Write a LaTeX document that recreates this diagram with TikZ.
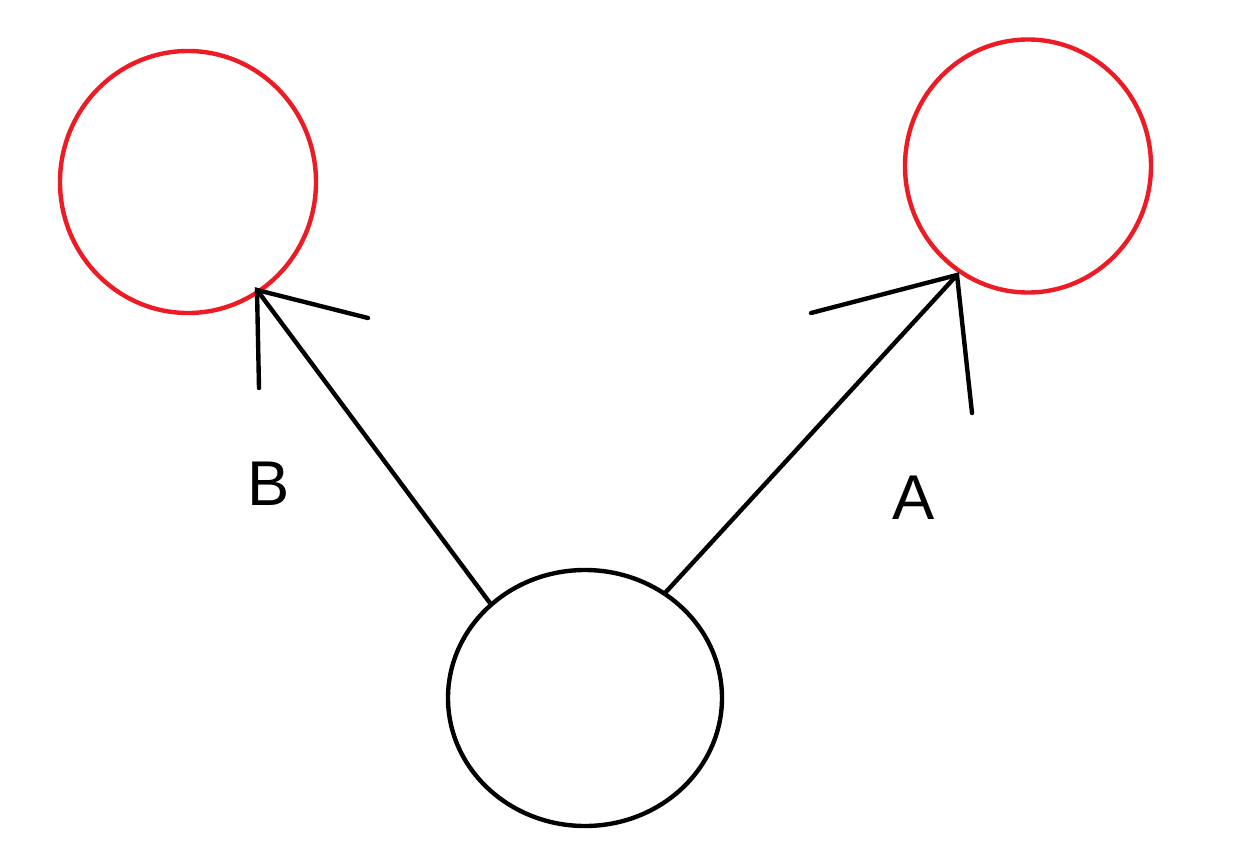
\documentclass[tikz,border=0pt]{standalone}
\usepackage{fontspec}
\setmainfont{Liberation Sans}
\usetikzlibrary{shapes.geometric}
\definecolor{pred}{RGB}{237,28,36}
\begin{document}
\begin{tikzpicture}[x=0.02cm,y=-0.02cm,
  ring/.style={ellipse,draw,line width=2.5pt,inner sep=0pt},
  redring/.style={ring,draw=pred},
  stroke/.style={line width=2.5pt,line cap=round,black},
  lbl/.style={font=\fontsize{36}{42}\selectfont,inner sep=0pt}]
\path[use as bounding box] (0,0) rectangle (1241,865);
\node[redring,minimum width=256*0.02cm,minimum height=262*0.02cm] (L) at (188,182) {};
\node[redring,minimum width=246*0.02cm,minimum height=253*0.02cm] (R) at (1028,166) {};
\node[ring,minimum width=274*0.02cm,minimum height=256*0.02cm] (C) at (585,698) {};
\coordinate (bs) at (490,603);
\coordinate (bt) at (257,290);
\coordinate (b1) at (368,318);
\coordinate (b2) at (259,388);
\coordinate (as) at (665,593);
\coordinate (at) at (957,275);
\coordinate (a1) at (811,313);
\coordinate (a2) at (972,413);
\draw[stroke] (bs) -- (bt);
\draw[stroke] (b1) -- (bt) -- (b2);
\draw[stroke] (as) -- (at);
\draw[stroke] (a1) -- (at) -- (a2);
\node[lbl] (B) at (269,484) {B};
\node[lbl] (A) at (914,498) {A};
\end{tikzpicture}
\end{document}
